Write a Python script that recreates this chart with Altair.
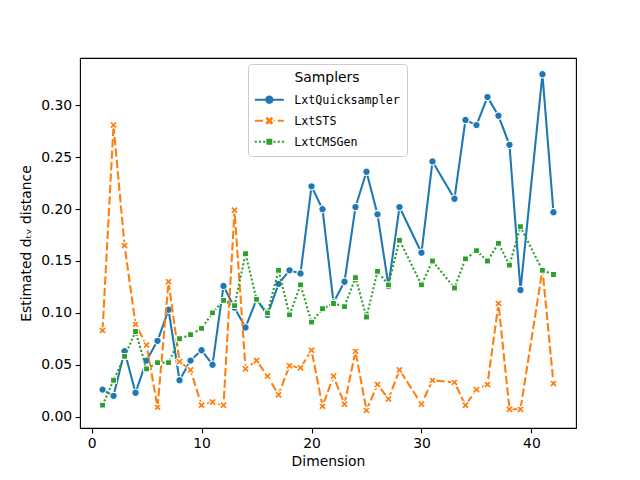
import altair as alt
import pandas as pd
import numpy as np

dims = list(range(1, 29)) + [30, 31, 33, 34, 35, 36, 37, 38, 39, 41, 42]
samplers = ["LxtQuicksampler", "LxtSTS", "LxtCMSGen"]
quick = [0.026, 0.020, 0.063, 0.023, 0.054, 0.073, 0.103, 0.035, 0.054, 0.064,
         0.050, 0.126, 0.105, 0.086, 0.113, 0.098, 0.128, 0.141, 0.138, 0.222,
         0.200, 0.110, 0.130, 0.202, 0.236, 0.195, 0.126, 0.202, 0.158, 0.246,
         0.210, 0.286, 0.281, 0.308, 0.290, 0.262, 0.122, 0.330, 0.197]
sts = [0.083, 0.281, 0.165, 0.089, 0.069, 0.009, 0.130, 0.053, 0.045, 0.011,
       0.014, 0.011, 0.199, 0.046, 0.054, 0.039, 0.021, 0.049, 0.047, 0.064,
       0.010, 0.039, 0.012, 0.063, 0.006, 0.031, 0.017, 0.045, 0.012, 0.035,
       0.033, 0.011, 0.026, 0.031, 0.109, 0.007, 0.007, 0.142, 0.032]
cms = [0.011, 0.035, 0.058, 0.082, 0.046, 0.052, 0.052, 0.075, 0.079, 0.085,
       0.100, 0.112, 0.107, 0.157, 0.113, 0.100, 0.141, 0.098, 0.127, 0.091,
       0.104, 0.109, 0.106, 0.134, 0.096, 0.140, 0.127, 0.170, 0.127, 0.150,
       0.124, 0.152, 0.160, 0.150, 0.167, 0.146, 0.183, 0.141, 0.137]
colors = ["#1f77b4", "#ff7f0e", "#2ca02c"]
x_ticks = [0, 10, 20, 30, 40]
y_ticks = [0.0, 0.05, 0.10, 0.15, 0.20, 0.25, 0.30]

rows = []
for name, vals in zip(samplers, [quick, sts, cms]):
    for d, v in zip(dims, vals):
        rows.append({"dim": d, "value": v, "sampler": name})
df = pd.DataFrame(rows)


def fmt(v):
    return f"{v:.3f}".rstrip("0").rstrip(".") if abs(v) > 1e-9 else "0"


def xshape(r):
    a = r / 3.0
    pts = [(r, -a), (r, a), (a, a), (a, r), (-a, r), (-a, a), (-r, a), (-r, -a),
           (-a, -a), (-a, -r), (a, -r), (a, -a)]
    c = np.cos(np.pi / 4)
    out = []
    for (px, py) in pts:
        rx = px * c - py * c
        ry = px * c + py * c
        out.append(f"{fmt(rx)},{fmt(ry)}")
    return "M" + " L".join(out) + " Z"


def rect(x0, x1, h=0.26):
    return f"M{fmt(x0)},{fmt(-h)} H{fmt(x1)} V{fmt(h)} H{fmt(x0)} Z"


X_PATH = xshape(1.0)
# legend symbols: line + marker
L = 3.625
leg_quick = rect(-L, -1.0) + " " + rect(1.0, L) + " M1.04,0 A1.04,1.04 0 1 1 -1.04,0 A1.04,1.04 0 1 1 1.04,0 Z"
leg_sts = rect(-L, -1.55) + " " + rect(1.08, 1.33) + " " + rect(2.1, L) + " " + xshape(1.05)
dots = " ".join(rect(c - 0.26, c + 0.26) for c in [-3.4, -2.35, -1.3, 1.3, 2.35, 3.4])
leg_cms = dots + " M-0.74,-0.74 H0.74 V0.74 H-0.74 Z"

xenc = alt.X("dim:Q", scale=alt.Scale(domain=[-1.05, 44.05], nice=False, zero=False),
             axis=alt.Axis(values=x_ticks, title="Dimension", titlePadding=4))
yenc = alt.Y("value:Q", scale=alt.Scale(domain=[-0.0110, 0.3457], nice=False, zero=False),
             axis=alt.Axis(values=y_ticks, format=".2f", title="Estimated dₜᵥ distance",
                           titlePadding=7))

base = alt.Chart(df).encode(x=xenc, y=yenc)
dashes = [None, [8.33, 3.125], [2.08, 2.08]]
marker_shapes = ["circle", X_PATH, "square"]
marker_sizes = [54.5, 70, 34.7]

layers = []
for name, col, dash, shp, sz in zip(samplers, colors, dashes, marker_shapes, marker_sizes):
    sub = base.transform_filter(alt.datum.sampler == name)
    if dash:
        ln = sub.mark_line(color=col, strokeWidth=2.08, strokeDash=dash, strokeJoin="round")
    else:
        ln = sub.mark_line(color=col, strokeWidth=2.08, strokeJoin="round")
    pt = sub.mark_point(filled=True, shape=shp, size=sz, fill=col, stroke="white",
                        strokeWidth=1.04, opacity=1)
    layers += [ln, pt]

legend_layer = base.transform_filter(alt.datum.value < -5).mark_point(filled=True, opacity=1).encode(
    color=alt.Color("sampler:N", scale=alt.Scale(domain=samplers, range=colors),
                    legend=alt.Legend(title="Samplers", orient="none", legendX=168, legendY=6,
                                      titleFont="DejaVu Sans", titleFontSize=13.9,
                                      titleFontWeight="normal", titleColor="black",
                                      titleAnchor="middle", titleAlign="center", titlePadding=9,
                                      labelFont="DejaVu Sans Mono", labelFontSize=11.7,
                                      labelColor="black", symbolSize=64, symbolStrokeWidth=0,
                                      symbolOffset=8.5, labelOffset=19, padding=7,
                                      rowPadding=8, fillColor="rgba(255,255,255,0.8)",
                                      strokeColor="#cccccc", cornerRadius=3,
                                      symbolOpacity=1)),
    shape=alt.Shape("sampler:N", scale=alt.Scale(domain=samplers,
                                                 range=[leg_quick, leg_sts, leg_cms]),
                    legend=alt.Legend(title="Samplers", orient="none", legendX=168, legendY=6)),
)
layers.append(legend_layer)

chart = alt.layer(*layers).properties(
    width=496, height=370,
    padding={"left": 72, "top": 50, "right": 48, "bottom": 44},
    autosize=alt.AutoSizeParams(type="none"),
).configure_view(stroke="black", strokeWidth=1.1).configure_axis(
    domain=False, grid=False, tickColor="black", tickWidth=1.1, tickSize=4.9,
    labelFont="DejaVu Sans", labelFontSize=13.9, labelColor="black", labelPadding=3.5,
    titleFont="DejaVu Sans", titleFontSize=13.9, titleFontWeight="normal", titleColor="black",
)

chart.save("out.html", embed_options={"renderer": "svg", "actions": False})
